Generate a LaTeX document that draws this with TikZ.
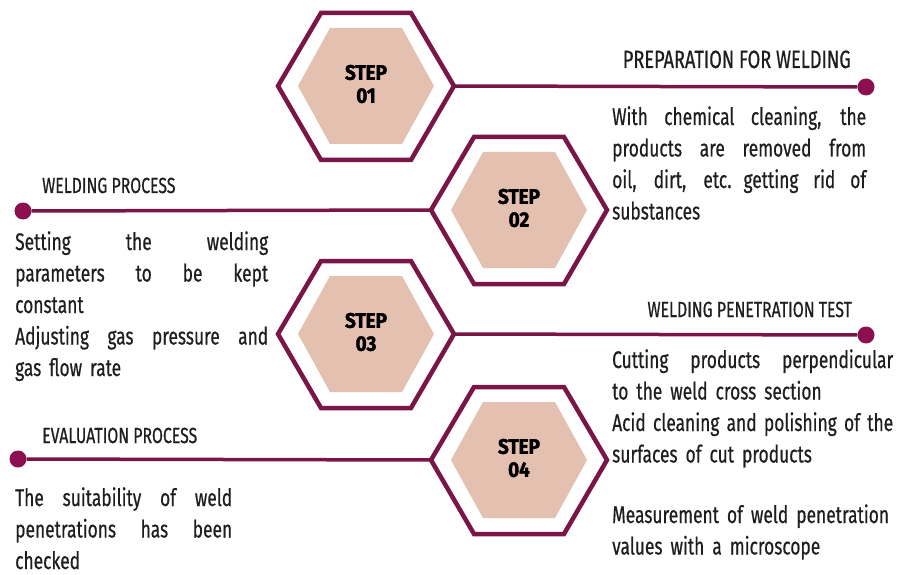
\documentclass[tikz,border=0pt]{standalone}
\usepackage{fontspec}
\setmainfont{Fira Sans}[FakeStretch=0.727, FakeBold=0.5]
\newfontfamily\bodyfont{Fira Sans}[FakeStretch=0.724, FakeBold=0.5]
\newfontfamily\stepfont{Fira Sans}[FakeStretch=0.9, FakeBold=2]
\definecolor{hexpurple}{HTML}{7A1548}
\definecolor{dotpurple}{HTML}{8C1050}
\definecolor{hexpink}{HTML}{E4C0B0}
\definecolor{textgrey}{HTML}{1E1E1E}
% a justified line of the given width: the word spaces share the free room
\newcommand\J[2]{\leavevmode\hbox to #1{\spaceskip=0.25em plus 1fil\relax #2}}
% outer hexagon outline, inner filled hexagon and the two side vertices
\newcommand\stephex[2]{%
  \coordinate (#1) at #2;
  \coordinate (#1-l) at ([shift={(-88,0)}]#1);
  \coordinate (#1-r) at ([shift={(88,0)}]#1);
  \fill[hexpink] ([shift={(-68,0)}]#1) -- ([shift={(-36,-58)}]#1) -- ([shift={(36,-58)}]#1)
    -- ([shift={(68,0)}]#1) -- ([shift={(36,58)}]#1) -- ([shift={(-36,58)}]#1) -- cycle;
  \draw[hexline] (#1-l) -- ([shift={(-45,-73)}]#1) -- ([shift={(45,-73)}]#1)
    -- (#1-r) -- ([shift={(45,74)}]#1) -- ([shift={(-45,74)}]#1) -- cycle;
}
\tikzset{
  hexline/.style={draw=hexpurple, line width=4.5pt, line join=miter},
  link/.style={draw=hexpurple, line width=3.5pt},
  enddot/.style={circle, fill=dotpurple, minimum size=17pt, inner sep=0pt},
  steplabel/.style={font=\stepfont\bfseries\fontsize{21}{23}\selectfont, align=center, text=black, inner sep=0pt},
  heading/.style={font=\fontsize{21.8}{23}\selectfont, text=textgrey, inner sep=0pt},
  bigheading/.style={heading, font=\fontsize{25}{27}\selectfont},
  bodytext/.style={font=\bodyfont\fontsize{24}{31.5}\selectfont,
    text=textgrey, inner sep=0pt, align=left, anchor=base west},
}
\begin{document}
\hyphenpenalty=10000
\begin{tikzpicture}[x=1pt, y=-1pt]
\useasboundingbox[fill=white] (0,0) rectangle (897,575);

% step hexagons
\stephex{h1}{(366,86)}
\stephex{h2}{(519,210)}
\stephex{h3}{(366,334)}
\stephex{h4}{(519,460)}

\node[steplabel] (s1) at ([yshift=2]h1) {STEP\\01};
\node[steplabel] (s2) at ([yshift=2]h2) {STEP\\02};
\node[steplabel] (s3) at ([yshift=2]h3) {STEP\\03};
\node[steplabel] (s4) at ([yshift=2]h4) {STEP\\04};

% connectors to the end dots
\node[enddot] (d1) at (866,87) {};
\node[enddot] (d2) at (23,211) {};
\node[enddot] (d3) at (866,335) {};
\node[enddot] (d4) at (18,459) {};
\draw[link] (h1-r) -- (d1);
\draw[link] (h2-l) -- (d2);
\draw[link] (h3-r) -- (d3);
\draw[link] (h4-l) -- (d4);

% headings
\node[bigheading, anchor=base east] (t1) at (851,68) {PREPARATION FOR WELDING};
\node[heading, anchor=base west] (t2) at (42,193) {WELDING PROCESS};
\node[heading, anchor=base east] (t3) at (852,317) {WELDING PENETRATION TEST};
\node[heading, anchor=base west] (t4) at (42,443) {EVALUATION PROCESS};

% descriptions
\node[bodytext, text width=254pt] (b1) at (612,125)
  {\J{254pt}{With chemical cleaning, the}\\ \J{254pt}{products are removed from}\\
   \J{254pt}{oil, dirt, etc. getting rid of}\\ substances};
\node[bodytext, text width=253pt] (b2) at (15,250)
  {\J{253pt}{Setting the welding}\\ \J{253pt}{parameters to be kept}\\ constant\\
   \J{253pt}{Adjusting gas pressure and}\\ gas flow rate};
\node[bodytext, text width=284pt] (b3) at (612,368)
  {\J{281pt}{Cutting products perpendicular}\\ to the weld cross section\\
   \J{281pt}{Acid cleaning and polishing of the}\\ surfaces of cut products\\[29pt]
   Measurement of weld penetration\\ values with a microscope};
\node[bodytext, text width=217pt] (b4) at (15,506)
  {\J{217pt}{The suitability of weld}\\ \J{217pt}{penetrations has been}\\ checked};
\end{tikzpicture}
\end{document}
